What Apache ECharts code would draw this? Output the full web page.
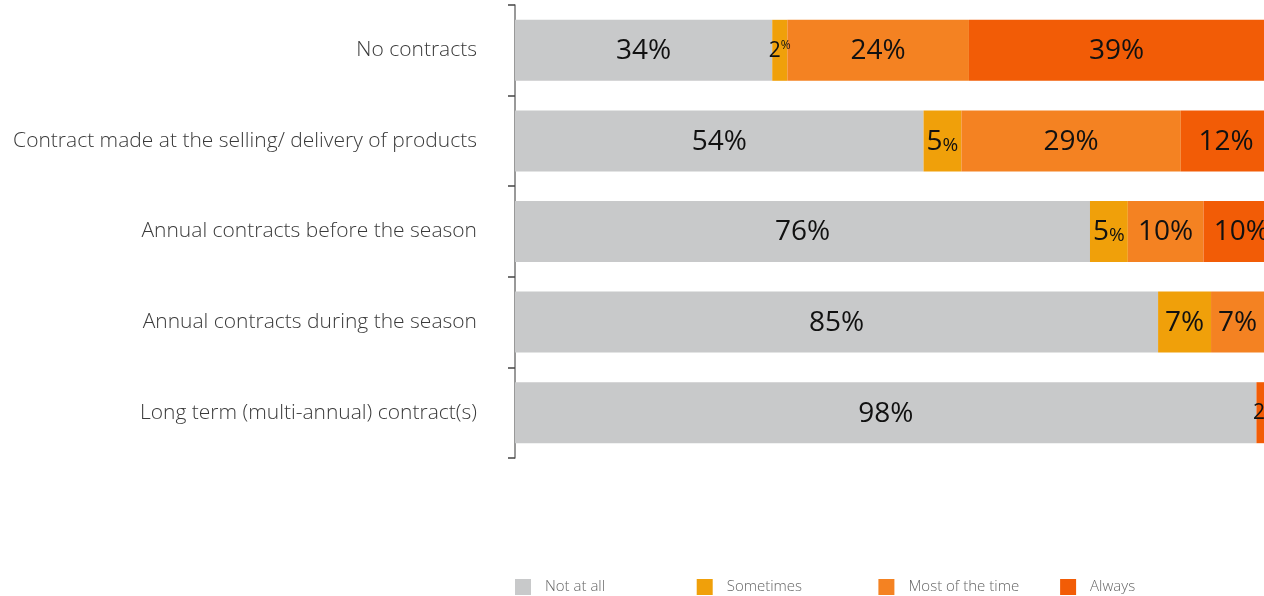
<!DOCTYPE html>
<html>
<head>
<meta charset="utf-8">
<script src="https://cdn.jsdelivr.net/npm/echarts@6/dist/echarts.min.js"></script>
<style>
  html, body { margin: 0; padding: 0; background: #fff; }
  #chart { width: 1264px; height: 596px; }
</style>
</head>
<body>
<div id="chart"></div>
<script>
// Contract types, top to bottom
const categories = [
  'No contracts',
  'Contract made at the selling/ delivery of products',
  'Annual contracts before the season',
  'Annual contracts during the season',
  'Long term (multi-annual) contract(s)'
];

// Share of respondents (%) per answer
const notAtAll    = [34, 54, 76, 85, 98];
const sometimes   = [2, 5, 5, 7, 0];
const mostOfTime  = [24, 29, 10, 7, 0];
const always      = [39, 12, 10, 0, 2];

const seriesNames  = ['Not at all', 'Sometimes', 'Most of the time', 'Always'];
const seriesColors = ['#C8C9CA', '#F0A00A', '#F48222', '#F25C06'];

const FONT = '"Open Sans", Lato, sans-serif';

function labelFormatter(p) {
  const v = p.value;
  if (!v) return '';
  if (v <= 2) return '{s|' + v + '}{sp|%}';
  if (v <= 5) return '{b|' + v + '}{bp|%}';
  return '{b|' + v + '%}';
}

const richStyles = {
  b:  { fontSize: 28, color: '#111', fontFamily: FONT, verticalAlign: 'bottom', lineHeight: 30 },
  bp: { fontSize: 19, color: '#111', fontFamily: FONT, verticalAlign: 'bottom', lineHeight: 30, padding: [0, 0, 1, 0] },
  s:  { fontSize: 21, color: '#111', fontFamily: FONT, verticalAlign: 'bottom', lineHeight: 22 },
  sp: { fontSize: 12, color: '#111', fontFamily: FONT, verticalAlign: 'top', lineHeight: 22 }
};

const dataSets = [notAtAll, sometimes, mostOfTime, always];

// one legend block per answer so the entries sit on an even spacing
const legendStep = 181.7;
const legends = seriesNames.map((name, i) => ({
  data: [name],
  left: 515 + legendStep * i,
  top: 579,
  padding: 0,
  itemWidth: 16,
  itemHeight: 16,
  icon: 'rect',
  selectedMode: false,
  textStyle: {
    fontSize: 15,
    color: '#666',
    fontFamily: FONT,
    fontWeight: 300,
    padding: [0, 0, 0, 9]
  }
}));

const chart = echarts.init(document.getElementById('chart'), null, { renderer: 'canvas' });

chart.setOption({
  animation: false,
  backgroundColor: '#fff',
  grid: { left: 515, right: 0, top: 5, bottom: 138, containLabel: false },
  xAxis: {
    type: 'value',
    min: 0,
    max: 99,
    show: false
  },
  yAxis: {
    type: 'category',
    data: categories,
    inverse: true,
    axisLine: { show: true, lineStyle: { color: '#777', width: 1.5 } },
    axisTick: { show: true, length: 7, lineStyle: { color: '#444', width: 1.5 } },
    axisLabel: {
      margin: 38,
      fontSize: 21,
      color: '#3a3a3a',
      fontFamily: FONT,
      fontWeight: 300
    },
    splitLine: { show: false }
  },
  legend: legends,
  series: dataSets.map((d, i) => ({
    name: seriesNames[i],
    type: 'bar',
    stack: 'total',
    barWidth: 61,
    clip: false,
    data: d,
    itemStyle: { color: seriesColors[i] },
    label: {
      show: true,
      position: 'inside',
      formatter: labelFormatter,
      rich: richStyles
    },
    emphasis: { disabled: true }
  }))
});
</script>
</body>
</html>
